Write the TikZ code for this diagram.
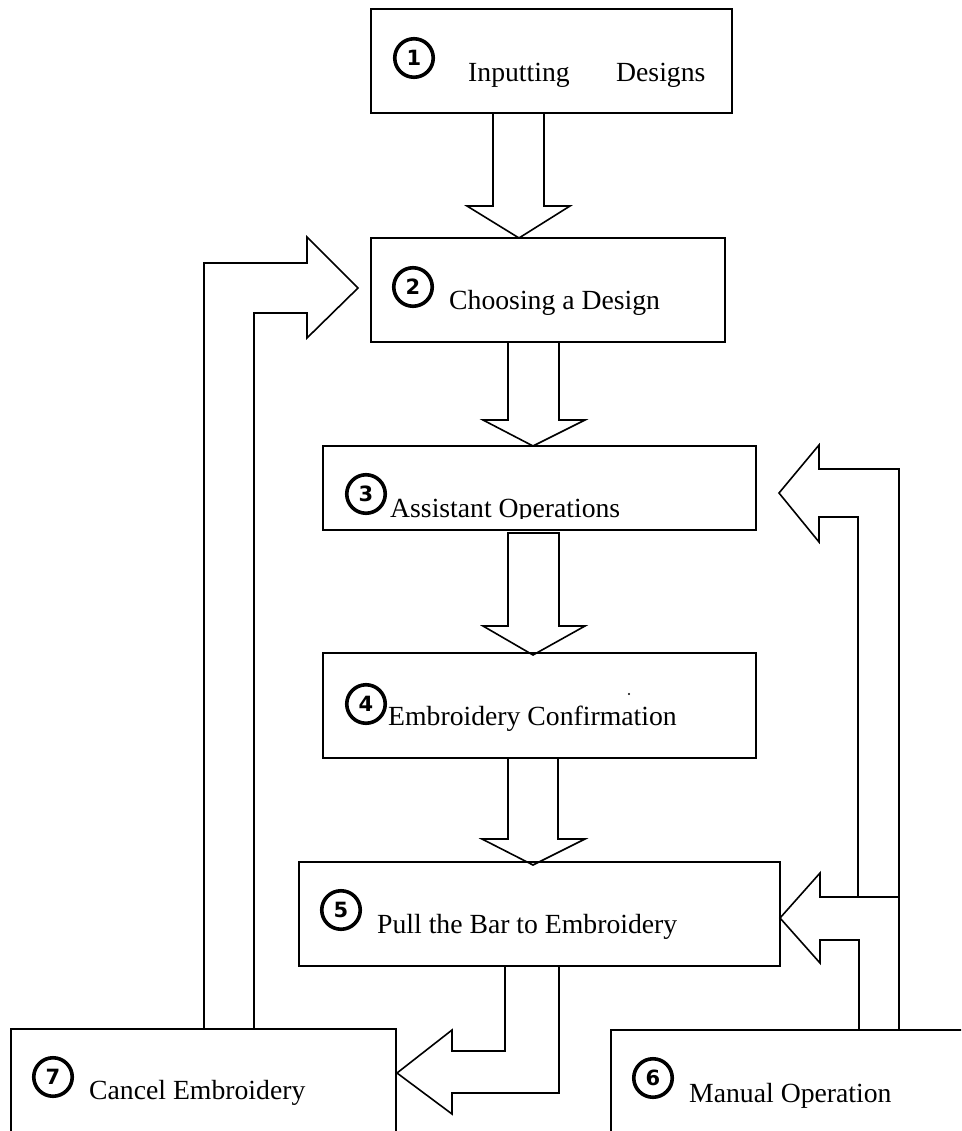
\documentclass[tikz,border=0pt]{standalone}
\usepackage{fontspec}
\setmainfont{Liberation Serif}
\newfontfamily\digitfont{DejaVu Sans}
\begin{document}
\begin{tikzpicture}[x=1pt,y=-1pt]
\tikzset{
 box/.style={draw, line width=1.6pt, inner sep=0pt, fill=white, rectangle},
 lbl/.style={anchor=base west, inner sep=0pt, font=\fontsize{27.7}{30}\selectfont},
 num/.style={draw, circle, line width=3.6pt, minimum size=38.5pt, inner sep=0pt, font=\digitfont\bfseries\fontsize{21}{22}\selectfont},
 blk/.style={draw, line width=1.6pt, line join=miter},
}
\clip (0,0) rectangle (961,1131);
\fill[white] (0,0) rectangle (961,1131);

% boxes
\node[box, minimum width=361pt, minimum height=104pt] (b1) at (551.5,61) {};
\node[box, minimum width=354pt, minimum height=104pt] (b2) at (548,290) {};
\node[box, minimum width=433pt, minimum height=84pt] (b3) at (539.5,488) {};
\node[box, minimum width=433pt, minimum height=105pt] (b4) at (539.5,705.5) {};
\node[box, minimum width=481pt, minimum height=104pt] (b5) at (539.5,914) {};
\node[box, minimum width=369pt, minimum height=120pt] (b6) at (795.5,1090) {};
\node[box, minimum width=385pt, minimum height=121pt] (b7) at (203.5,1089.5) {};

% numbers
\node[num] (n1) at (414,58) {1};
\node[num] (n2) at (413,287) {2};
\node[num] (n3) at (366,494) {3};
\node[num] (n4) at (366,704) {4};
\node[num] (n5) at (341,910) {5};
\node[num] (n6) at (653,1078) {6};
\node[num] (n7) at (53,1077) {7};

% labels
\node[lbl] (t1) at (468,82) {Inputting\hspace{46.4pt}Designs};
\node[lbl] (t2) at (449,309) {Choosing a Design};
\begin{scope}
\clip (323,446) rectangle (756,518.5);
\node[lbl] (t3) at (390,517) {Assistant Operations};
\end{scope}
\node[lbl] (t4) at (388,725) {Embroidery Confirmation};
\node[circle, fill, inner sep=0pt, minimum size=2.4pt] (dot) at (629,694) {};
\node[lbl] (t5) at (377,933) {Pull the Bar to Embroidery};
\node[lbl] (t6) at (689,1102) {Manual Operation};
\node[lbl] (t7) at (89,1099) {Cancel Embroidery};

% block arrows down
\draw[blk] (493,113) -- (493,206) -- (467,206) -- (519,238) -- (570,206) -- (544,206) -- (544,113);
\draw[blk] (508,342) -- (508,420) -- (483,420) -- (533,446) -- (585,420) -- (559,420) -- (559,342);
\draw[blk] (508,533) -- (508,626) -- (483,626) -- (533,655) -- (585,626) -- (559,626) -- (559,533) -- cycle;
\draw[blk] (508,758) -- (508,839) -- (482,839) -- (533,865) -- (585,839) -- (558,839) -- (558,758);

% 5 -> 7
\draw[blk] (505,966) -- (505,1051) -- (452,1051) -- (452,1030) -- (397,1073) -- (452,1114) -- (452,1093) -- (559,1093) -- (559,966);

% 7 -> 2
\draw[blk] (204,1029) -- (204,263) -- (307,263) -- (307,237) -- (358,288) -- (307,338) -- (307,313) -- (254,313) -- (254,1029);

% 6 -> 3
\draw[blk] (858,897) -- (858,517) -- (819,517) -- (819,542) -- (779,493) -- (819,445) -- (819,469) -- (899,469) -- (899,1030);
% 6 -> 5
\draw[blk] (859,1030) -- (859,940) -- (820,940) -- (820,963) -- (780,918) -- (820,873) -- (820,897) -- (899,897);
\end{tikzpicture}
\end{document}
